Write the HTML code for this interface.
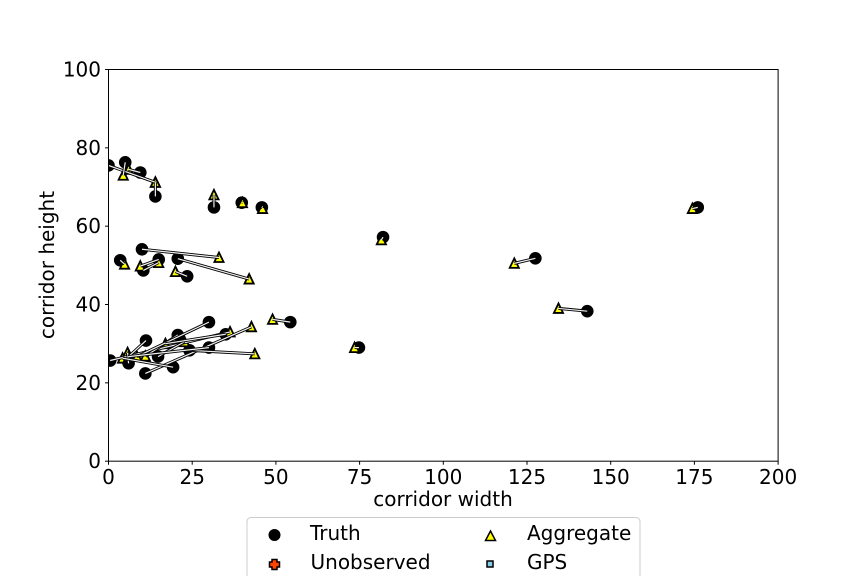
<!DOCTYPE html>
<html>
<head>
<meta charset="utf-8">
<style>
html,body{margin:0;padding:0;background:#fff;}
body{width:864px;height:576px;overflow:hidden;}
svg{display:block;}
text{font-family:"DejaVu Sans","Liberation Sans",sans-serif;fill:#000;}
</style>
</head>
<body>
<svg id="chart" width="864" height="576" viewBox="0 0 864 576" xmlns="http://www.w3.org/2000/svg">
  <defs>
    <clipPath id="plot-clip"><rect x="108.5" y="69.5" width="669.6" height="391.68"/></clipPath>
  </defs>
  <rect x="108.5" y="69.5" width="669.6" height="391.68" fill="#fff"/>
  <g id="marks" clip-path="url(#plot-clip)"></g>
  <rect x="108.5" y="69.5" width="669.6" height="391.68" fill="none" stroke="#000" stroke-width="1"/>
  <g id="axes"></g>
  <text x="443" y="506" font-size="20" text-anchor="middle">corridor width</text>
  <text x="0" y="0" font-size="20" text-anchor="middle" transform="translate(54,265) rotate(-90)">corridor height</text>
  <g>
    <rect x="247" y="517.5" width="393" height="80" rx="4" fill="#fff" stroke="#ccc" stroke-width="1"/>
    <g>
      <circle cx="274.5" cy="535" r="5.5" fill="#000" stroke="#000" stroke-width="1"/>
      <text x="310" y="540" font-size="20">Truth</text>
    </g>
    <g>
      <path d="M272 559.500h5v2.500h2.500v5h-2.500v2.500h-5v-2.500h-2.500v-5h2.500z" fill="#ff4500" stroke="#000" stroke-width="1.500"/>
      <text x="310.500" y="569" font-size="20">Unobserved</text>
    </g>
    <g>
      <path d="M490.500 531L495.500 540.500H485.500Z" fill="#ffff00" stroke="#000" stroke-width="1.500"/>
      <text x="527" y="540" font-size="20">Aggregate</text>
    </g>
    <g>
      <rect x="487" y="561" width="6" height="6" fill="#87ceeb" stroke="#000" stroke-width="1.500"/>
      <text x="527" y="569" font-size="20">GPS</text>
    </g>
  </g>
</svg>
<script>
const truthX = [0.0, 5.0, 9.5, 14.0, 31.5, 39.8, 45.8, 82.0, 127.5, 176.0, 143.0, 54.3, 74.8, 10.0, 20.7, 3.5, 15.0, 10.4, 23.5, 0.5, 6.0, 11.2, 11.0, 14.8, 19.3, 20.7, 30.0, 24.2, 30.0, 35.0];
const truthY = [75.5, 76.3, 73.7, 67.6, 64.8, 66.0, 64.8, 57.2, 51.8, 64.8, 38.3, 35.5, 29.0, 54.1, 51.7, 51.3, 51.5, 48.7, 47.2, 25.7, 25.0, 30.8, 22.4, 26.7, 24.0, 32.2, 35.5, 28.3, 29.0, 32.4];
const aggregateX = [14.0, 4.4, 6.0, 14.0, 31.5, 40.0, 46.0, 81.5, 121.2, 174.4, 134.4, 49.0, 73.5, 33.0, 42.0, 4.8, 9.5, 15.0, 20.0, 36.3, 5.7, 6.0, 42.7, 22.7, 4.2, 11.0, 8.5, 43.7, 6.0, 17.0];
const aggregateY = [71.2, 73.0, 74.5, 71.2, 68.0, 66.0, 64.5, 56.5, 50.5, 64.5, 39.0, 36.2, 29.0, 52.0, 46.5, 50.3, 49.8, 50.7, 48.4, 33.0, 27.7, 26.7, 34.3, 30.5, 26.3, 26.8, 26.7, 27.4, 26.7, 30.0];
const xTickLabels = [0, 25, 50, 75, 100, 125, 150, 175, 200];
const yTickLabels = [0, 20, 40, 60, 80, 100];

const SVG_NS = 'http://www.w3.org/2000/svg';
const xScale = v => 108.5 + (v / 200) * 669.6;
const yScale = v => 461.18 - (v / 100) * 391.68;
const marks = document.getElementById('marks');
const axes = document.getElementById('axes');

function make(tag, attrs, parent) {
  const el = document.createElementNS(SVG_NS, tag);
  for (const k in attrs) el.setAttribute(k, attrs[k]);
  parent.appendChild(el);
  return el;
}

truthX.forEach((x, i) => {
  const c = make('circle', {cx: xScale(x), cy: yScale(truthY[i]), r: 5.8, fill: '#000', stroke: '#000', 'stroke-width': 1}, marks);
  
  
});

aggregateX.forEach((x, i) => {
  const px = xScale(x), py = yScale(aggregateY[i]);
  const t = make('path', {d: `M${px} ${py - 5}L${px + 4.6} ${py + 4.5}H${px - 4.6}Z`, fill: '#ffff00', stroke: '#000', 'stroke-width': 1.8, 'stroke-linejoin': 'miter'}, marks);
  
  
});

truthX.forEach((x, i) => {
  const coords = {x1: xScale(x), y1: yScale(truthY[i]), x2: xScale(aggregateX[i]), y2: yScale(aggregateY[i])};
  const outer = make('line', Object.assign({stroke: '#000', 'stroke-width': 3}, coords), marks);
  
  
  const inner = make('line', Object.assign({stroke: '#f0f0f0', 'stroke-width': 1.2}, coords), marks);
  
  
});

xTickLabels.forEach(v => {
  const px = xScale(v);
  const tick = make('line', {x1: px, x2: px, y1: 461.18, y2: 464.7, stroke: '#000', 'stroke-width': 1}, axes);
  
  
  const label = make('text', {x: px, y: 484, 'font-size': 20, 'text-anchor': 'middle'}, axes);
  
  
  label.textContent = v;
});

yTickLabels.forEach(v => {
  const py = yScale(v);
  const tick = make('line', {x1: 105, x2: 108.5, y1: py, y2: py, stroke: '#000', 'stroke-width': 1}, axes);
  
  
  const label = make('text', {x: 101, y: py + 7, 'font-size': 20, 'text-anchor': 'end'}, axes);
  
  
  label.textContent = v;
});
</script>
</body>
</html>
